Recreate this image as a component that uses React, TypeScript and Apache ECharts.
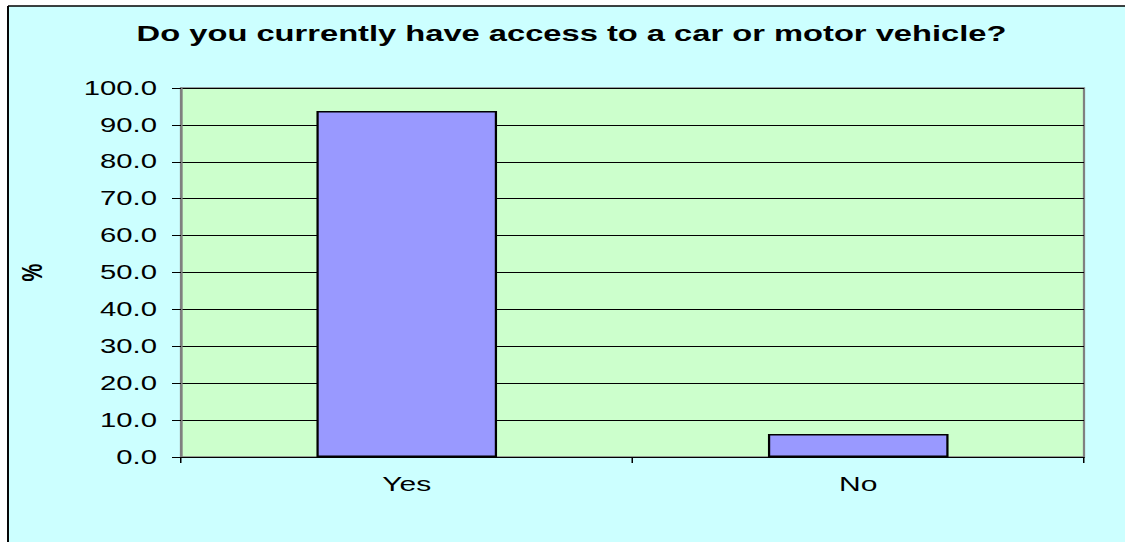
import React, { useEffect, useRef } from "react";
import * as echarts from "echarts";

const titleText = "Do you currently have access to a car or motor vehicle?";
const categories = ["Yes", "No"];
const values = [93.8, 6.2];
const yAxisName = "%";
const yMin = 0;
const yMax = 100;
const yInterval = 10;

const STRETCH = 1.5;
const W = 1125 / STRETCH;
const H = 542;
const FONT = "'Liberation Sans', Arial, sans-serif";
const BX = 8 / STRETCH;
const BY = 6;

export default function App() {
  const ref = useRef<HTMLDivElement>(null);
  useEffect(() => {
    if (!ref.current) return;
    const chart = echarts.init(ref.current, null, { renderer: "svg" });
    chart.setOption({
      animation: false,
      backgroundColor: "#FFFFFF",
      textStyle: { fontFamily: FONT },
      title: {
        text: titleText,
        left: 376,
        textAlign: "center",
        top: 18,
        textStyle: { fontFamily: FONT, fontWeight: "bold", fontSize: 21.8, color: "#000" },
      },
      graphic: [
        {
          type: "rect",
          z: -10,
          silent: true,
          shape: { x: BX, y: BY, width: W, height: H },
          style: { fill: "#CCFFFF", lineWidth: 0 },
        },
        {
          type: "line",
          z: -9,
          silent: true,
          shape: { x1: BX, y1: BY, x2: BX, y2: H },
          style: { stroke: "#000", lineWidth: 1.3 },
        },
        {
          type: "line",
          z: -9,
          silent: true,
          shape: { x1: BX, y1: BY, x2: W, y2: BY },
          style: { stroke: "#000", lineWidth: 1.3 },
        },
      ],
      grid: {
        left: 181 / STRETCH,
        right: W - 1084 / STRETCH,
        top: 88,
        bottom: H - 457,
        show: true,
        backgroundColor: "#CCFFCC",
        borderColor: "#808080",
        borderWidth: 1.5,
      },
      xAxis: {
        type: "category",
        data: categories,
        axisLine: { show: true, lineStyle: { color: "#000", width: 1 } },
        axisTick: { show: true, length: 6, alignWithLabel: false, lineStyle: { color: "#000" } },
        axisLabel: { fontFamily: FONT, fontSize: 20, color: "#000", margin: 17 },
        splitLine: { show: false },
      },
      yAxis: {
        type: "value",
        min: yMin,
        max: yMax,
        interval: yInterval,
        name: yAxisName,
        nameLocation: "middle",
        nameGap: 90,
        nameTextStyle: { fontFamily: FONT, fontWeight: "bold", fontSize: 20, color: "#000" },
        axisLine: { show: true, lineStyle: { color: "#808080", width: 1.5 } },
        axisTick: { show: true, length: 6, lineStyle: { color: "#000" } },
        axisLabel: {
          fontFamily: FONT,
          fontSize: 19.5,
          color: "#000",
          margin: 16,
          formatter: (v: number) => v.toFixed(1),
        },
        splitLine: { show: true, lineStyle: { color: "#000", width: 1 } },
      },
      series: [
        {
          type: "bar",
          data: values,
          barWidth: "40%",
          itemStyle: { color: "#9999FF", borderColor: "#000", borderWidth: 1.5 },
        },
      ],
    });
    return () => chart.dispose();
  }, []);
  return (
    <div
      style={{
        position: "fixed",
        left: 0,
        top: 0,
        width: W,
        height: H,
        overflow: "hidden",
        transform: `scaleX(${STRETCH})`,
        transformOrigin: "0 0",
      }}
    >
      <div ref={ref} style={{ width: W, height: H }} />
    </div>
  );
}
